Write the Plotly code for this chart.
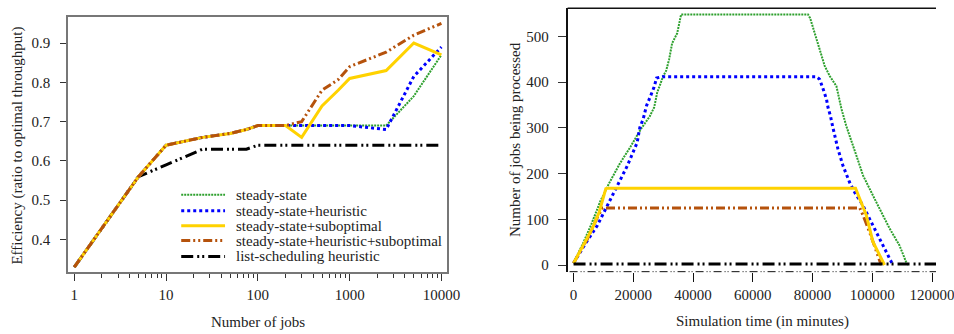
import plotly.graph_objects as go

# ---------------- Left panel data: efficiency vs number of jobs ----------------
jobs = [1, 5, 10, 25, 50, 75, 100, 200, 300, 500, 750, 1000, 2500, 5000, 10000]
eff_steady = [0.33, 0.56, 0.64, 0.66, 0.67, 0.68, 0.69, 0.69, 0.69, 0.69, 0.69, 0.69, 0.69, 0.765, 0.87]
eff_heur = [0.33, 0.56, 0.64, 0.66, 0.67, 0.68, 0.69, 0.69, 0.69, 0.69, 0.69, 0.69, 0.68, 0.815, 0.89]
eff_subopt = [0.33, 0.56, 0.64, 0.66, 0.67, 0.68, 0.69, 0.69, 0.66, 0.74, 0.78, 0.81, 0.83, 0.90, 0.87]
eff_heur_subopt = [0.33, 0.56, 0.64, 0.66, 0.67, 0.68, 0.69, 0.69, 0.70, 0.78, 0.807, 0.84, 0.877, 0.92, 0.95]
eff_list = [0.33, 0.56, 0.59, 0.63, 0.63, 0.63, 0.64, 0.64, 0.64, 0.64, 0.64, 0.64, 0.64, 0.64, 0.64]

# ---------------- Right panel data: jobs being processed vs time ----------------
t_steady = [0, 3000, 6000, 9000, 12000, 15500, 19000, 22500, 25500, 27000, 28000, 30000, 31000, 32000,
            33000, 34700, 36000, 78500, 79200, 80800, 82400, 84100, 85800, 88000, 89700, 91300, 94700,
            96900, 101300, 105800, 109100, 111300, 112100]
n_steady = [5, 45, 90, 140, 180, 222, 258, 297, 325, 345, 377, 413, 425, 450,
            485, 507, 548, 548, 540, 507, 471, 435, 413, 391, 341, 304, 239,
            196, 138, 80, 43, 7, 0]

t_heur = [0, 3600, 8000, 11300, 14700, 18000, 21300, 22200, 23300, 24400, 25800, 26900, 27800, 29700,
          81300, 82400, 83600, 84700, 85200, 86000, 86700, 88500, 90200, 92400, 94100, 96900, 99100,
          101300, 103600, 105800, 106900]
n_heur = [4, 43, 87, 130, 174, 217, 268, 301, 319, 348, 370, 388, 409, 412,
          412, 406, 384, 362, 344, 326, 304, 254, 217, 181, 159, 130, 101,
          72, 43, 14, 0]

t_subopt = [0, 3600, 6300, 8600, 10800, 11300, 94400, 95800, 98000, 100200, 101300, 104100]
n_subopt = [4, 47, 80, 116, 167, 168, 168, 145, 109, 51, 36, 0]

t_heur_subopt = [0, 4700, 8000, 9700, 95800, 96900, 99100, 101300, 103000]
n_heur_subopt = [4, 58, 105, 125, 125, 109, 72, 29, 0]

t_list = [0, 20000, 40000, 60000, 80000, 100000, 120000, 126000]
n_list = [2, 2, 2, 2, 2, 2, 2, 2]

series_names = ["steady-state", "steady-state+heuristic", "steady-state+suboptimal",
                "steady-state+heuristic+suboptimal", "list-scheduling heuristic"]

FONT = "Liberation Serif, Tinos, Times New Roman, DejaVu Serif, serif"
GREEN = "#2ea02e"
BLUE = "#0000ff"
GOLD = "#ffd200"
BROWN = "#b5520c"
BLACK = "#000000"

styles = [
    dict(color=GREEN, width=2, dash="2px,1px"),
    dict(color=BLUE, width=3, dash="3px,3px"),
    dict(color=GOLD, width=3, dash="solid"),
    dict(color=BROWN, width=3, dash="9px,3px,2px,3px,2px,3px"),
    dict(color=BLACK, width=3, dash="12px,4px,2px,3px,2px,4px"),
]

fig = go.Figure()

left_y = [eff_steady, eff_heur, eff_subopt, eff_heur_subopt, eff_list]
draw_order = [4, 0, 1, 2, 3]
for i in draw_order:
    fig.add_trace(go.Scatter(x=jobs, y=left_y[i], mode="lines", line=styles[i],
                             name=series_names[i], showlegend=False, xaxis="x", yaxis="y"))

right_t = [t_steady, t_heur, t_subopt, t_heur_subopt, t_list]
right_n = [n_steady, n_heur, n_subopt, n_heur_subopt, n_list]
for i in [0, 1, 3, 2, 4]:
    fig.add_trace(go.Scatter(x=right_t[i], y=right_n[i], mode="lines", line=styles[i],
                             name=series_names[i], showlegend=False, xaxis="x2", yaxis="y2"))

W, H = 954, 334
W_RENDER = 940  # width the page actually lays the figure out at
def px_x(p):
    return min(p / W_RENDER, 1.0)
def px_y(p):
    return (H - p) / H

# right panel: 0 at px 576, 0.003 px per minute
x2_right_val = (W_RENDER - 576) / 0.003

tickfont = dict(family=FONT, size=15, color="#222")
minor_vals = [m * 10 ** k for k in range(4) for m in range(2, 10)]

fig.update_layout(
    width=W, height=H, autosize=False,
    margin=dict(l=0, r=0, t=0, b=0),
    paper_bgcolor="white", plot_bgcolor="white",
    font=dict(family=FONT, size=15, color="#222"),
    xaxis=dict(domain=[px_x(68.3), px_x(449.3)], type="log", range=[-0.0688, 4.065],
               tickvals=[1, 10, 100, 1000, 10000], ticktext=["1", "10", "100", "1000", "10000"],
               ticks="outside", ticklen=7, tickcolor="#333", tickwidth=1,
               minor=dict(tickvals=minor_vals, ticks="outside", ticklen=4, tickcolor="#333", tickwidth=1),
               showgrid=False, zeroline=False, showline=True, linecolor="#777", linewidth=1.5,
               mirror=True, tickfont=tickfont, ticklabelstandoff=1, ticklabeloverflow="allow", anchor="y"),
    yaxis=dict(domain=[px_y(274), px_y(17.3)], range=[0.3165, 0.9658],
               tickvals=[0.4, 0.5, 0.6, 0.7, 0.8, 0.9],
               ticks="outside", ticklen=6, tickcolor="#333", tickwidth=1,
               showgrid=False, zeroline=False, showline=True, linecolor="#777", linewidth=1.5,
               mirror=True, tickfont=tickfont, ticklabelstandoff=7, anchor="x"),
    xaxis2=dict(domain=[px_x(570), 1.0], range=[-2000, x2_right_val],
                tickvals=[0, 20000, 40000, 60000, 80000, 100000, 120000],
                ticktext=["0", "20000", "40000", "60000", "80000", "100000", "120000"],
                ticks="outside", ticklen=9, tickcolor="#111", tickwidth=1,
                showgrid=False, zeroline=False, showline=False,
                tickfont=tickfont, ticklabelstandoff=0, ticklabeloverflow="allow", anchor="y2"),
    yaxis2=dict(domain=[px_y(273.3), px_y(8.3)], range=[-14.5, 561.6],
                tickvals=[0, 100, 200, 300, 400, 500],
                ticks="outside", ticklen=8, tickcolor="#333", tickwidth=1,
                showgrid=False, zeroline=False, showline=True, linecolor="#111", linewidth=1.5,
                tickfont=tickfont, ticklabelstandoff=6, anchor="x2"),
)

shapes = [
    # right panel top frame line
    dict(type="line", xref="paper", yref="paper", x0=px_x(570), x1=1.0, y0=px_y(8.3), y1=px_y(8.3),
         line=dict(color="#111", width=1.5)),
    # right panel bottom axis line (dash-dot pattern)
    dict(type="line", xref="paper", yref="paper", x0=px_x(572), x1=1.0, y0=px_y(273.3), y1=px_y(273.3),
         line=dict(color="#111", width=1, dash="8px,3px,1px,2px,1px,3px")),
]

annotations = [
    dict(text="Efficiency (ratio to optimal throughput)", x=px_x(17.5), y=px_y(146), xref="paper", yref="paper",
         textangle=-90, showarrow=False, font=dict(family=FONT, size=15, color="#222"),
         xanchor="center", yanchor="middle"),
    dict(text="Number of jobs", x=px_x(259), y=0, xref="paper", yref="paper",
         showarrow=False, font=dict(family=FONT, size=15, color="#222"), xanchor="center", yanchor="bottom"),
    dict(text="Number of jobs being processed", x=px_x(517), y=px_y(140), xref="paper", yref="paper",
         textangle=-90, showarrow=False, font=dict(family=FONT, size=15, color="#222"),
         xanchor="center", yanchor="middle"),
    dict(text="Simulation time (in minutes)", x=px_x(766), y=0, xref="paper", yref="paper",
         showarrow=False, font=dict(family=FONT, size=15, color="#222"), xanchor="center", yanchor="bottom"),
]

# legend drawn inside left panel
leg_rows = [196, 212, 227, 242, 258]
for i, row in enumerate(leg_rows):
    st = styles[i]
    shapes.append(dict(type="line", xref="paper", yref="paper", x0=px_x(182), x1=px_x(226),
                       y0=px_y(row), y1=px_y(row),
                       line=dict(color=st["color"], width=st["width"], dash=st["dash"])))
    annotations.append(dict(text=series_names[i], x=px_x(235), y=px_y(row), xref="paper", yref="paper",
                            showarrow=False, xanchor="left", yanchor="middle",
                            font=dict(family=FONT, size=15, color="#222")))

fig.update_layout(shapes=shapes, annotations=annotations)

post = (
    "document.documentElement.style.overflow='hidden';"
    "document.documentElement.style.margin='0';"
    "document.body.style.margin='0';document.body.style.padding='0';"
    "document.body.style.overflow='hidden';"
)

fig.write_html("out.html",
               config={"responsive": False, "displayModeBar": False},
               post_script=post)
